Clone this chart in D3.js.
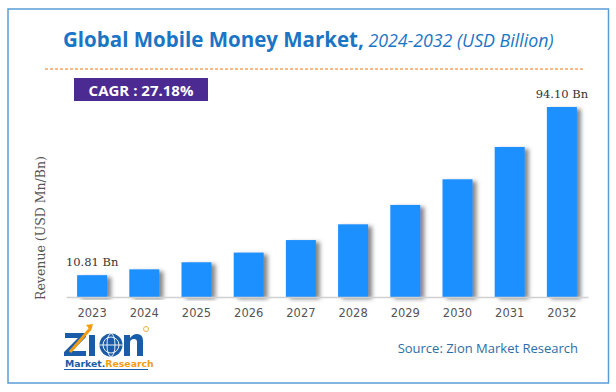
<!DOCTYPE html>
<html><head><meta charset="utf-8">
<script src="https://cdn.jsdelivr.net/npm/d3@7"></script>
<style>html,body{margin:0;padding:0;background:#fff;}svg{display:block;}</style>
</head><body>
<svg id="chart" width="616" height="392"></svg>
<script>
const years = ["2023","2024","2025","2026","2027","2028","2029","2030","2031","2032"];
const revenue = [10.81, 13.7, 17.2, 22.0, 28.2, 36.0, 45.6, 58.3, 74.3, 94.10];
const valueLabels = {"2023": "10.81 Bn", "2032": "94.10 Bn"};
const titleMain = "Global Mobile Money Market,";
const titleSub = " 2024-2032 (USD Billion)";
const cagrText = "CAGR : 27.18%";
const yTitle = "Revenue (USD Mn/Bn)";
const sourceText = "Source: Zion Market Research";

const svg = d3.select("#chart");
const defs = svg.append("defs");
const f = defs.append("filter").attr("id","sh").attr("x","-20%").attr("y","-10%").attr("width","160%").attr("height","120%");
f.append("feDropShadow").attr("dx",4).attr("dy",2).attr("stdDeviation",2).attr("flood-color","#555").attr("flood-opacity",0.7);

// border
svg.append("rect").attr("x",8).attr("y",9).attr("width",600.5).attr("height",374)
  .attr("fill","none").attr("stroke","#5b9bd5").attr("stroke-width",1.5);

// title
const sans = "'Open Sans', Lato, sans-serif";
const t = svg.append("text").attr("x",63).attr("y",47).attr("fill","#1b75c4");
t.append("tspan").attr("font-family",sans).attr("font-weight","bold").attr("font-size",20.5).text(titleMain);
t.append("tspan").attr("font-family",sans).attr("font-style","italic").attr("font-size",17.8).text(titleSub);

// dashed line
svg.append("line").attr("x1",45).attr("x2",583).attr("y1",69).attr("y2",69)
  .attr("stroke","#f4a460").attr("stroke-width",1.3).attr("stroke-dasharray","3,2");

// CAGR box
svg.append("rect").attr("x",74).attr("y",78).attr("width",134).attr("height",23).attr("fill","#4b2a91");
svg.append("text").attr("x",141).attr("y",95.5).attr("text-anchor","middle").attr("fill","#fff")
  .attr("font-family",sans).attr("font-weight","bold").attr("font-size",15).text(cagrText);

// scales
const baseline = 297;
const x = d3.scaleBand().domain(years).range([66,588]).paddingInner(0.425).paddingOuter(0.2125);
const y = d3.scaleLinear().domain([0,94.10]).range([baseline, 107]);

// bars
svg.append("g").selectAll("rect").data(years).join("rect")
  .attr("x", d => x(d)).attr("width", x.bandwidth())
  .attr("y", (d,i) => y(revenue[i])).attr("height", (d,i) => baseline - y(revenue[i]))
  .attr("fill","#1e90ff").attr("filter","url(#sh)");

// axis
const ax = svg.append("g").attr("transform",`translate(0,${baseline})`).call(d3.axisBottom(x).tickSize(0).tickPadding(12));
ax.select(".domain").attr("stroke","#d0d0d0").attr("stroke-width",1.5);
ax.selectAll("text").attr("font-family","'DejaVu Sans', Verdana, sans-serif").attr("font-size",11.5).attr("fill","#555");

// value labels
svg.append("g").selectAll("text").data(years.filter(d => valueLabels[d])).join("text")
  .attr("x", d => x(d) + x.bandwidth()/2)
  .attr("y", d => y(revenue[years.indexOf(d)]) - 9)
  .attr("text-anchor","middle")
  .attr("font-family","'DejaVu Serif', Georgia, serif").attr("font-size",11.5).attr("fill","#333")
  .text(d => valueLabels[d]);

// y title
svg.append("text").attr("transform","translate(45,228) rotate(-90)").attr("text-anchor","middle")
  .attr("font-family","'DejaVu Serif', Georgia, serif").attr("font-size",12.5).attr("fill","#555").text(yTitle);

// source
svg.append("text").attr("x",578).attr("y",353).attr("text-anchor","end")
  .attr("font-family",sans).attr("font-size",13).attr("fill","#2e6da4").text(sourceText);

// logo (drawn shapes)
const blue = "#1a5ca8", orange = "#f39c12";
const lg = svg.append("g");
lg.append("path").attr("d","M65,333 H86 V337 L72,351 H86 V356 H64 V352 L78,338 H65 Z").attr("fill",blue);
lg.append("path").attr("d","M70,352 L90,329").attr("stroke",orange).attr("stroke-width",3).attr("fill","none");
lg.append("path").attr("d","M86,325 L93,324 L91,331 Z").attr("fill",orange);
lg.append("rect").attr("x",89).attr("y",335).attr("width",6).attr("height",21).attr("fill",blue);
lg.append("circle").attr("cx",111).attr("cy",345).attr("r",11.5).attr("fill",blue);
lg.append("circle").attr("cx",111).attr("cy",345).attr("r",8).attr("fill","none").attr("stroke","#fff").attr("stroke-width",0.9);
lg.append("ellipse").attr("cx",111).attr("cy",345).attr("rx",4).attr("ry",11.5).attr("fill","none").attr("stroke","#fff").attr("stroke-width",0.9);
lg.append("line").attr("x1",99.5).attr("x2",122.5).attr("y1",345).attr("y2",345).attr("stroke","#fff").attr("stroke-width",0.9);
lg.append("path").attr("d","M124,356 V335 H130 V338 Q133,334 137,334 Q143,334 143,341 V356 H137 V342 Q137,339 134,339 Q130,339 130,343 V356 Z").attr("fill",blue);
lg.append("circle").attr("cx",146).attr("cy",329).attr("r",2.5).attr("fill","none").attr("stroke",orange).attr("stroke-width",0.8);
const lt = lg.append("text").attr("x",65).attr("y",367).attr("font-family","'DejaVu Sans', sans-serif").attr("font-weight","bold").attr("font-size",9.3);
lt.append("tspan").attr("fill",blue).text("Market.");
lt.append("tspan").attr("fill",orange).text("Research");
lg.append("line").attr("x1",64).attr("x2",148).attr("y1",369.5).attr("y2",369.5).attr("stroke",blue).attr("stroke-width",1);
</script>
</body></html>
